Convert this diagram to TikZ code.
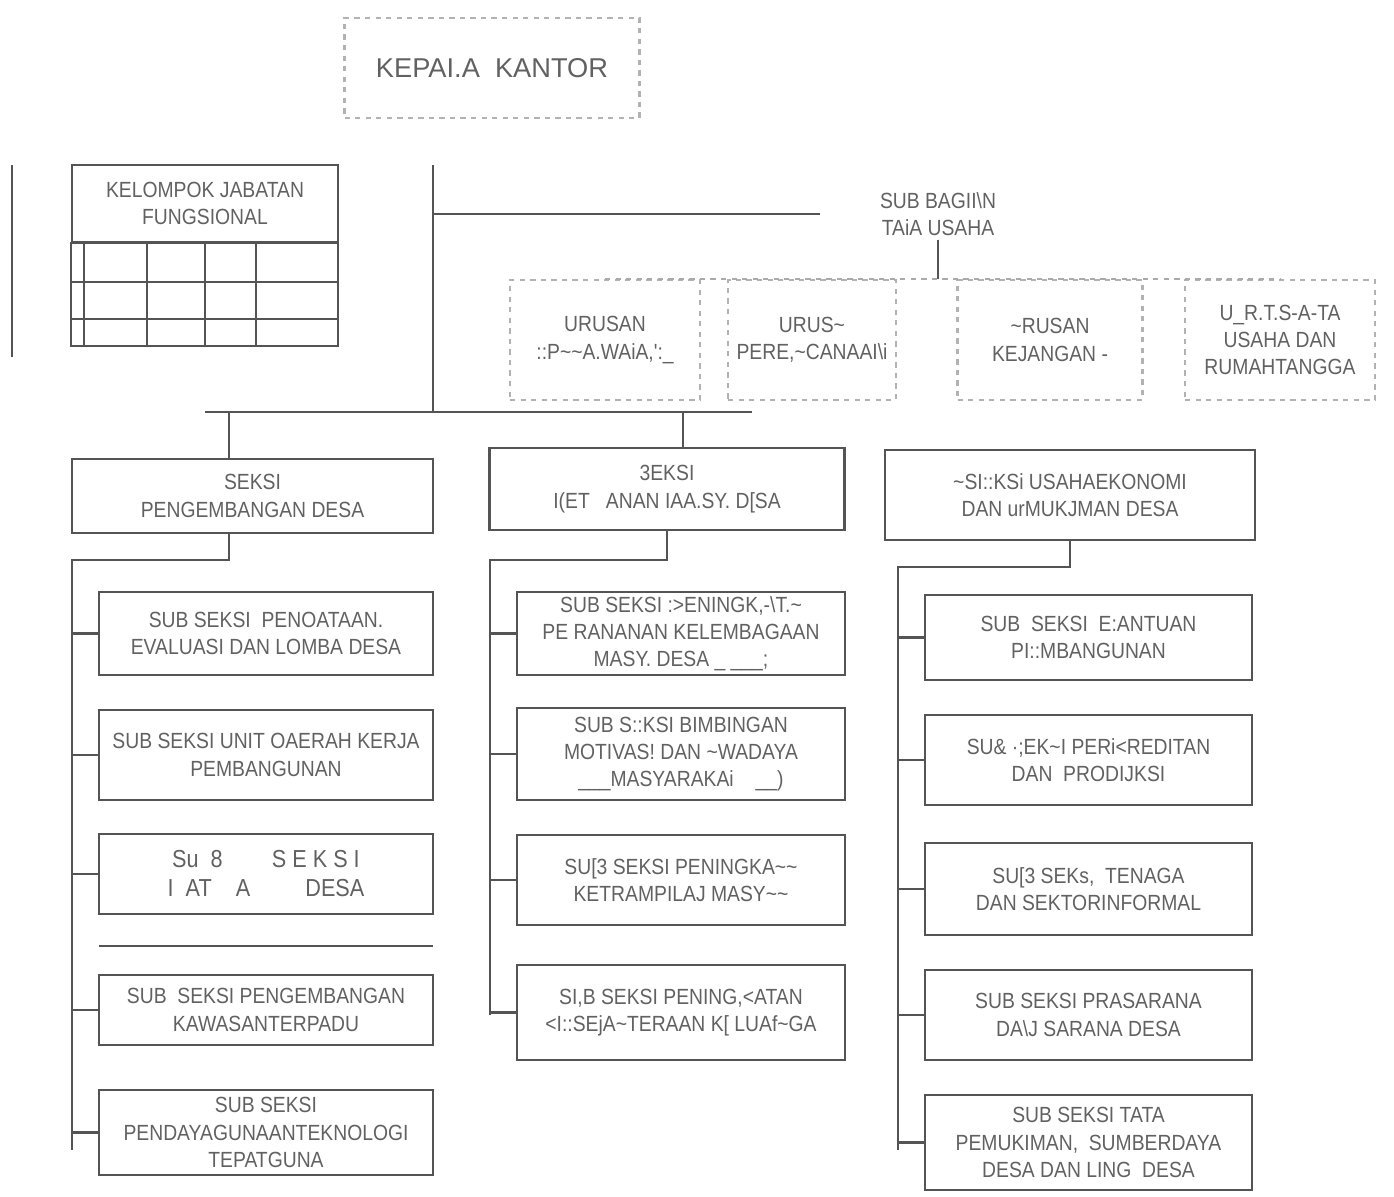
\documentclass[tikz,border=0pt]{standalone}
\usepackage{fontspec}
\setmainfont{Liberation Sans}
\newfontfamily\narrowsans{Liberation Sans}[FakeStretch=0.88]
\definecolor{inkline}{gray}{0.33}
\definecolor{inktext}{gray}{0.38}
\tikzset{
  link/.style={draw=inkline, line width=1.3pt},
  faintlink/.style={draw=inkline!50, line width=1.3pt, dashed},
  unitbox/.style={draw=inkline, line width=1.3pt, align=center, inner sep=2pt, text=inktext, font=\narrowsans\fontsize{12.5}{15.5}\selectfont},
  faintbox/.style={unitbox, draw=inkline!45, dashed},
  plainlabel/.style={align=center, inner sep=2pt, text=inktext, font=\narrowsans\fontsize{12.5}{15.5}\selectfont},
  leftsub/.style={unitbox, minimum width=6.68cm},
  midsub/.style={unitbox, minimum width=6.56cm},
  rightsub/.style={unitbox, minimum width=6.54cm},
}
\begin{document}
\begin{tikzpicture}[x=0.02cm, y=-0.02cm]
\useasboundingbox (0,0) rectangle (1394,1197);
% head
\node[faintbox, font=\fontsize{15.5}{18}\selectfont, minimum width=5.9cm, minimum height=2cm] (kepala) at (492,68) {KEPAI.A\ \ KANTOR};
% kelompok jabatan fungsional
\node[unitbox, minimum width=5.32cm, minimum height=1.54cm] (jabfung) at (205,203.5) {KELOMPOK JABATAN\\FUNGSIONAL};
\draw[link] (jabfung.south west) rectangle (338,346);
\foreach \r in {282,319} \draw[link] (72,\r) -- (338,\r);
\foreach \c in {84,147,205,256} \draw[link] (\c,242) -- (\c,346);
\draw[link] (12,165) -- (12,357);
% sub bagian tata usaha
\coordinate (spinetop) at (433,165);
\coordinate (spinebot) at (433,412);
\node[plainlabel, minimum width=4.7cm] (subbag) at (938,214) {SUB BAGII\textbackslash N\\TAiA USAHA};
\draw[link] (spinetop) -- (spinebot);
\draw[link] (spinetop |- subbag.west) -- (subbag.west);
\node[faintbox, minimum width=3.8cm, minimum height=2.4cm] (urpeg) at (605,340) {URUSAN\\::P\textasciitilde\textasciitilde A.WAiA,':\_};
\node[faintbox, minimum width=3.36cm, minimum height=2.4cm] (urren) at (812,340) {URUS\textasciitilde\\PERE,\textasciitilde CANAAI\textbackslash i};
\node[faintbox, minimum width=3.7cm, minimum height=2.4cm] (urkeu) at (1050,340) {\textasciitilde RUSAN\\KEJANGAN -};
\node[faintbox, minimum width=3.8cm, minimum height=2.4cm] (urtu) at (1280,340) {U\_R.T.S-A-TA\\USAHA DAN\\RUMAHTANGGA};
\draw[link] (subbag.south) -- (subbag.south |- urren.north);
\draw[faintlink] (urpeg.north) -- (urtu.north);
% seksi
\coordinate (pdjoin) at (229,412);
\coordinate (pmjoin) at (683,412);
\draw[link] (205,412) -- (752,412);
\node[unitbox, minimum width=7.22cm, minimum height=1.48cm] (seksipd) at (252.5,496) {SEKSI\\PENGEMBANGAN DESA};
\node[unitbox, minimum width=7.1cm, minimum height=1.64cm] (seksipm) at (667,489) {3EKSI\\I(ET\ \ \ ANAN IAA.SY. D[SA};
\node[unitbox, minimum width=7.4cm, minimum height=1.8cm] (seksiue) at (1070,495) {\textasciitilde SI::KSi USAHAEKONOMI\\DAN urMUKJMAN DESA};
\draw[link] (pdjoin) -- (pdjoin |- seksipd.north);
\draw[link] (pmjoin) -- (pmjoin |- seksipm.north);
% pengembangan desa
\coordinate (pdtop) at (72,560);
\coordinate (pdbot) at (72,1150);
\node[leftsub, minimum height=1.66cm] (pd1) at (266,633.5) {SUB SEKSI\ \ PENOATAAN.\\EVALUASI DAN LOMBA DESA};
\node[leftsub, minimum height=1.8cm] (pd2) at (266,755) {SUB SEKSI UNIT\ OAERAH KERJA\\PEMBANGUNAN};
\node[leftsub, minimum height=1.6cm, font=\narrowsans\fontsize{14}{16.5}\selectfont] (pd3) at (266,874) {Su\ \ 8\qquad S\ E\ K\ S\ I\\I\ \ AT\ \ \ \ A\qquad\ DESA};
\node[leftsub, minimum height=1.4cm] (pd4) at (266,1010) {SUB\ \ SEKSI PENGEMBANGAN\\KAWASANTERPADU};
\node[leftsub, minimum height=1.7cm] (pd5) at (266,1132.5) {SUB SEKSI\\PENDAYAGUNAANTEKNOLOGI\\TEPATGUNA};
\draw[link] (99,946) -- (433,946);
\draw[link] (seksipd.south -| pdjoin) -- (pdjoin |- pdtop) -- (pdtop) -- (pdbot);
\foreach \n in {1,...,5} \draw[link] (pd\n.west -| pdtop) -- (pd\n.west);
% pemberdayaan masyarakat
\coordinate (pmtop) at (490,560);
\coordinate (pmbot) at (490,1015);
\node[midsub, minimum height=1.66cm] (pm1) at (681,633.5) {SUB SEKSI :>ENINGK,-\textbackslash T.\textasciitilde\\PE RANANAN KELEMBAGAAN\\MASY.\ DESA \_ \_\_\_;};
\node[midsub, minimum height=1.84cm] (pm2) at (681,754) {SUB S::KSI BIMBINGAN\\MOTIVAS! DAN \textasciitilde WADAYA\\\_\_\_MASYARAKAi\quad \_\_)};
\node[midsub, minimum height=1.8cm] (pm3) at (681,880) {SU[3 SEKSI PENINGKA\textasciitilde\textasciitilde\\KETRAMPILAJ MASY\textasciitilde\textasciitilde};
\node[midsub, minimum height=1.9cm] (pm4) at (681,1012.5) {SI,B SEKSI PENING,<ATAN\\<I::SEjA\textasciitilde TERAAN K[ LUAf\textasciitilde GA};
\draw[link] (seksipm.south) -- (seksipm.south |- pmtop) -- (pmtop) -- (pmbot);
\foreach \n in {1,...,4} \draw[link] (pm\n.west -| pmtop) -- (pm\n.west);
% usaha ekonomi
\coordinate (uetop) at (898,567);
\coordinate (uebot) at (898,1150);
\node[rightsub, minimum height=1.7cm] (ue1) at (1088.5,637.5) {SUB\ \ SEKSI\ \ E:ANTUAN\\PI::MBANGUNAN};
\node[rightsub, minimum height=1.8cm] (ue2) at (1088.5,760) {SU\& ·;EK\textasciitilde I PERi<REDITAN\\DAN\ \ PRODIJKSI};
\node[rightsub, minimum height=1.84cm] (ue3) at (1088.5,889) {SU[3 SEKs,\ \ TENAGA\\DAN SEKTORINFORMAL};
\node[rightsub, minimum height=1.8cm] (ue4) at (1088.5,1015) {SUB SEKSI\ PRASARANA\\DA\textbackslash J SARANA DESA};
\node[rightsub, minimum height=1.9cm] (ue5) at (1088.5,1142.5) {SUB SEKSI\ TATA\\PEMUKIMAN,\ \ SUMBERDAYA\\DESA DAN LING\ \ DESA};
\draw[link] (seksiue.south) -- (seksiue.south |- uetop) -- (uetop) -- (uebot);
\foreach \n in {1,...,5} \draw[link] (ue\n.west -| uetop) -- (ue\n.west);
\end{tikzpicture}
\end{document}
